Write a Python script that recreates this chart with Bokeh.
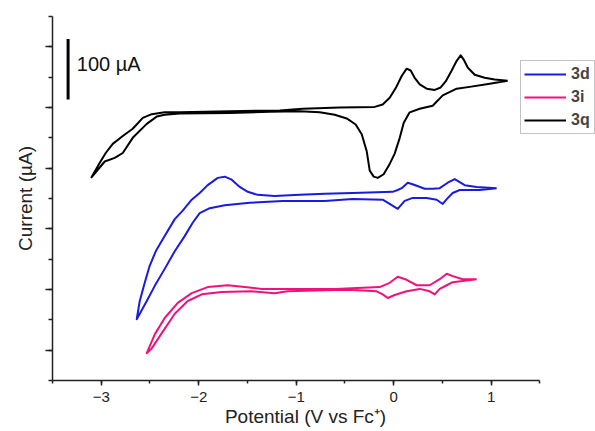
from bokeh.plotting import figure
from bokeh.models import (Range1d, SingleIntervalTicker, Legend, LegendItem,
                          CustomJSTickFormatter)
from bokeh.embed import file_html
from bokeh.resources import INLINE
from bokeh.core.properties import value

# ---- data (Potential in V vs Fc+, current in uA, curves offset vertically) ----
q_x = [1.169, 0.985, 0.779, 0.646, 0.503, 0.400, 0.267, 0.164, 0.103, 0.062,
       0.010, -0.041, -0.103, -0.164, -0.205, -0.246, -0.277, -0.328, -0.390, -0.482,
       -0.605, -0.759, -0.964, -1.272, -1.682, -2.195, -2.349, -2.431, -2.533, -2.677,
       -2.779, -2.862, -2.964, -3.100,
       -3.015, -2.954, -2.882, -2.779, -2.677, -2.574, -2.482, -2.349, -2.195, -1.682,
       -1.169, -0.933, -0.554, -0.195, -0.113, -0.041, 0.021, 0.082, 0.133, 0.174,
       0.215, 0.267, 0.338, 0.421, 0.482, 0.533, 0.595, 0.646, 0.687, 0.718,
       0.759, 0.831, 0.933, 1.036, 1.169]
q_y = [444, 439, 434, 431, 420, 403, 398, 392, 375, 350,
       324, 307, 290, 284, 286, 296, 328, 356, 372, 382,
       388, 392, 394, 393, 391, 390, 388, 385, 373, 350,
       325, 317, 311, 285,
       309, 325, 340, 353, 365, 383, 389, 392, 392, 394,
       395, 398, 400, 401, 405, 416, 432, 452, 464, 461,
       449, 438, 431, 429, 433, 443, 461, 477, 486, 479,
       466, 454, 449, 446, 444]

d_x = [1.056, 0.882, 0.677, 0.605, 0.544, 0.503, 0.441, 0.338, 0.195, 0.113,
       0.041, -0.021, -0.113, -0.421, -0.708, -1.138, -1.477, -1.733, -1.887, -1.990,
       -2.062, -2.144, -2.246, -2.349, -2.451, -2.533, -2.636,
       -2.605, -2.554, -2.503, -2.441, -2.369, -2.246, -2.164, -2.072, -1.990, -1.908,
       -1.805, -1.733, -1.662, -1.579, -1.497, -1.395, -1.221, -0.964, -0.708, -0.421,
       -0.010, 0.041, 0.082, 0.144, 0.185, 0.236, 0.318, 0.400, 0.472, 0.554,
       0.626, 0.677, 0.728, 0.851, 1.056]
d_y = [267, 264, 264, 259, 249, 241, 248, 251, 251, 246,
       233, 239, 248, 249, 246, 246, 243, 239, 234, 226,
       210, 188, 163, 134, 106, 81, 51,
       81, 111, 139, 163, 183, 216, 230, 248, 259, 272,
       284, 286, 281, 269, 261, 256, 254, 256, 258, 259,
       261, 264, 267, 276, 274, 271, 266, 266, 267, 276,
       282, 277, 272, 269, 267]

i_x = [0.851, 0.708, 0.605, 0.544, 0.472, 0.421, 0.369, 0.267, 0.133, 0.010,
       -0.062, -0.113, -0.174, -0.421, -0.605, -1.087, -1.221, -1.456, -1.764, -1.969,
       -2.113, -2.246, -2.379, -2.482, -2.533,
       -2.451, -2.349, -2.215, -2.072, -1.908, -1.703, -1.528, -1.354, -1.149, -0.605,
       -0.144, -0.041, 0.041, 0.133, 0.236, 0.369, 0.472, 0.544, 0.605, 0.708, 0.851]
i_y = [117, 114, 112, 107, 101, 92, 97, 101, 97, 91,
       86, 92, 97, 99, 99, 97, 94, 97, 96, 92,
       81, 60, 28, 3, -5,
       26, 53, 78, 94, 104, 107, 104, 101, 101, 101,
       104, 111, 121, 116, 107, 107, 117, 126, 122, 117, 117]

series_labels = ["3d", "3i", "3q"]
series_colors = ["#1a1ae0", "#f0127a", "#000000"]

scale_x = [-3.34]
scale_y0 = [413]
scale_y1 = [513]
scale_text = ["100 \u00b5A"]

x_axis_bounds = (-3.5, 1.5)

FONT = "Liberation Sans"

p = figure(width=595, height=431, output_backend="svg", toolbar_location=None,
           x_range=Range1d(-3.5, 2.07), y_range=Range1d(-50, 550),
           min_border_left=52, min_border_right=0, min_border_top=16,
           min_border_bottom=51)
p.outline_line_color = None
p.grid.visible = False
p.background_fill_color = "white"
p.border_fill_color = "white"

# axes
p.xaxis.ticker = SingleIntervalTicker(interval=1, num_minor_ticks=2)
p.xaxis.bounds = x_axis_bounds
p.yaxis.ticker = SingleIntervalTicker(interval=100, num_minor_ticks=2)
p.yaxis.formatter = CustomJSTickFormatter(code="return ''")
for ax in (p.xaxis[0], p.yaxis[0]):
    ax.axis_line_width = 1.5
    ax.axis_line_color = "#222222"
    ax.major_tick_line_width = 1.5
    ax.minor_tick_line_width = 1.5
    ax.major_tick_line_color = "#222222"
    ax.minor_tick_line_color = "#222222"
    ax.major_tick_in = 0
    ax.minor_tick_in = 0
    ax.axis_label_text_font = FONT
    ax.axis_label_text_font_size = "19px"
    ax.axis_label_text_font_style = "normal"
    ax.axis_label_text_color = "#222222"
    ax.major_label_text_font = FONT
    ax.major_label_text_font_size = "15px"
    ax.major_label_text_color = "#222222"
p.xaxis.major_tick_out = 5
p.xaxis.minor_tick_out = 3
p.yaxis.major_tick_out = 7
p.yaxis.minor_tick_out = 4
p.xaxis.major_label_standoff = 6
p.xaxis.axis_label_standoff = 1
p.yaxis.axis_label_standoff = 10
# trailing no-break spaces shift the centred label left, as in the original
p.xaxis.axis_label = "Potential (V vs Fc\u207a)" + "\u00a0" * 7
p.yaxis.axis_label = "Current (\u00b5A)"

r_d = p.line(d_x, d_y, line_color=series_colors[0], line_width=2, line_join="round")
r_i = p.line(i_x, i_y, line_color=series_colors[1], line_width=2, line_join="round")
r_q = p.line(q_x, q_y, line_color=series_colors[2], line_width=2, line_join="round")

# scale bar
p.segment(x0=scale_x, y0=scale_y0, x1=scale_x, y1=scale_y1, line_color="black", line_width=3)
p.text(x=[scale_x[0] + 0.09], y=[(scale_y0[0] + scale_y1[0]) / 2 + 8], text=scale_text,
       text_font=value(FONT), text_font_size="20px", text_baseline="middle",
       text_color="#111111")

legend = Legend(items=[LegendItem(label=series_labels[0], renderers=[r_d]),
                       LegendItem(label=series_labels[1], renderers=[r_i]),
                       LegendItem(label=series_labels[2], renderers=[r_q])],
                location=(468, 246))
legend.label_text_font = FONT
legend.label_text_font_style = "bold"
legend.label_text_font_size = "16px"
legend.glyph_width = 42
legend.glyph_height = 20
legend.label_height = 20
legend.spacing = 3
legend.padding = 3
legend.margin = 0
legend.label_standoff = 5
legend.border_line_color = "#888888"
legend.border_line_width = 1
legend.background_fill_alpha = 1.0
p.add_layout(legend)

open("out.html", "w").write(file_html(p, INLINE))
